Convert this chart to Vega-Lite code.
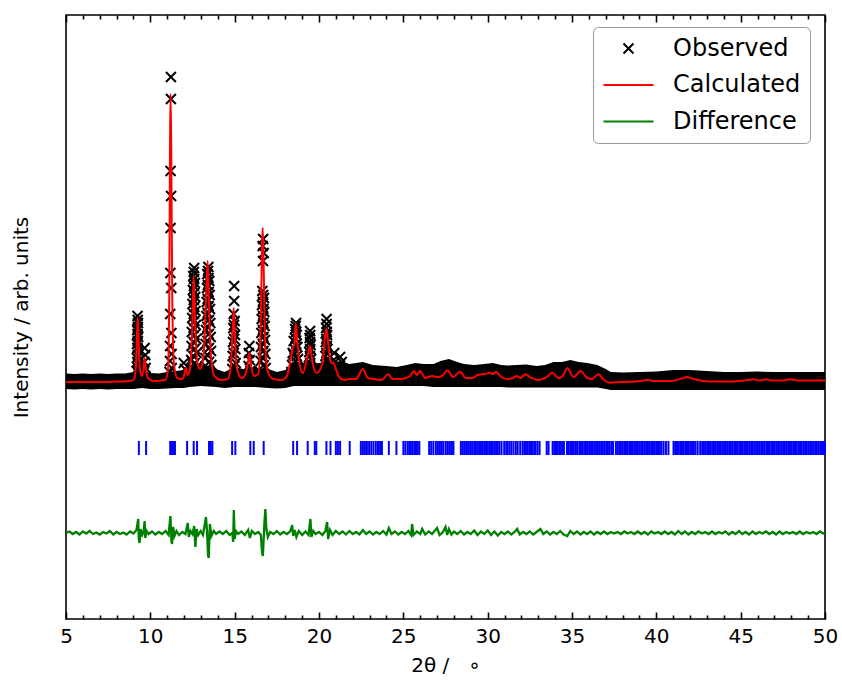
{
  "$schema": "https://vega.github.io/schema/vega-lite/v6.json",
  "width": 759,
  "height": 604,
  "autosize": {"type": "none"},
  "padding": {"left": 66, "top": 15, "right": 17, "bottom": 63},
  "background": "white",
  "datasets": {
    "band": [
      {"x": 5.0, "lo": 230, "hi": 245.5}, {"x": 5.5, "lo": 229.5, "hi": 245}, {"x": 6.0, "lo": 230, "hi": 245.5},
      {"x": 6.5, "lo": 229.5, "hi": 245}, {"x": 7.0, "lo": 230, "hi": 245.5}, {"x": 7.5, "lo": 229.5, "hi": 245},
      {"x": 8.0, "lo": 230, "hi": 245.5}, {"x": 8.5, "lo": 230, "hi": 245.5}, {"x": 9.0, "lo": 230, "hi": 247},
      {"x": 9.5, "lo": 231, "hi": 249}, {"x": 10.0, "lo": 230, "hi": 246}, {"x": 10.5, "lo": 230, "hi": 245.5},
      {"x": 11.0, "lo": 230.5, "hi": 247}, {"x": 11.5, "lo": 231, "hi": 248}, {"x": 12.0, "lo": 231, "hi": 249},
      {"x": 12.3, "lo": 232, "hi": 252}, {"x": 13.0, "lo": 233, "hi": 256}, {"x": 13.9, "lo": 232, "hi": 250},
      {"x": 14.4, "lo": 231, "hi": 247}, {"x": 15.0, "lo": 232, "hi": 252}, {"x": 15.5, "lo": 232, "hi": 250},
      {"x": 16.2, "lo": 232, "hi": 251}, {"x": 17.0, "lo": 231, "hi": 250}, {"x": 17.5, "lo": 230.5, "hi": 247},
      {"x": 18.0, "lo": 231, "hi": 249}, {"x": 18.5, "lo": 233, "hi": 256}, {"x": 19.0, "lo": 233, "hi": 256},
      {"x": 19.5, "lo": 233, "hi": 255}, {"x": 20.0, "lo": 233, "hi": 256}, {"x": 20.5, "lo": 233, "hi": 257},
      {"x": 21.0, "lo": 233, "hi": 257}, {"x": 21.3, "lo": 233, "hi": 258}, {"x": 21.8, "lo": 233, "hi": 255},
      {"x": 22.6, "lo": 233, "hi": 257}, {"x": 23.2, "lo": 233, "hi": 254}, {"x": 24.0, "lo": 233, "hi": 253},
      {"x": 24.6, "lo": 233, "hi": 252}, {"x": 25.2, "lo": 233, "hi": 254}, {"x": 25.7, "lo": 233, "hi": 256},
      {"x": 26.2, "lo": 233, "hi": 255}, {"x": 26.8, "lo": 232, "hi": 255}, {"x": 27.2, "lo": 232, "hi": 258},
      {"x": 27.7, "lo": 232, "hi": 260}, {"x": 28.2, "lo": 232, "hi": 257}, {"x": 28.6, "lo": 232, "hi": 255},
      {"x": 29.2, "lo": 232, "hi": 254}, {"x": 29.8, "lo": 232, "hi": 255}, {"x": 30.3, "lo": 232, "hi": 256},
      {"x": 30.8, "lo": 232, "hi": 254}, {"x": 31.2, "lo": 231.5, "hi": 253.5}, {"x": 31.7, "lo": 231.5, "hi": 254},
      {"x": 32.3, "lo": 231.5, "hi": 254.5}, {"x": 32.9, "lo": 231.5, "hi": 253}, {"x": 33.4, "lo": 231.5, "hi": 254},
      {"x": 33.9, "lo": 231.5, "hi": 257}, {"x": 34.4, "lo": 231.5, "hi": 257}, {"x": 34.9, "lo": 231.5, "hi": 259},
      {"x": 35.4, "lo": 231.5, "hi": 257}, {"x": 35.9, "lo": 231.5, "hi": 256}, {"x": 36.5, "lo": 231.5, "hi": 254},
      {"x": 37.0, "lo": 230, "hi": 250}, {"x": 37.3, "lo": 229, "hi": 247}, {"x": 38.0, "lo": 229, "hi": 246.5},
      {"x": 39.0, "lo": 229, "hi": 247}, {"x": 40.0, "lo": 229, "hi": 247.5}, {"x": 41.0, "lo": 229, "hi": 249},
      {"x": 42.0, "lo": 229, "hi": 249}, {"x": 43.0, "lo": 229, "hi": 248}, {"x": 44.0, "lo": 229, "hi": 247},
      {"x": 45.0, "lo": 229, "hi": 247}, {"x": 46.0, "lo": 229, "hi": 247.5}, {"x": 47.0, "lo": 229, "hi": 247},
      {"x": 48.0, "lo": 229, "hi": 247}, {"x": 49.0, "lo": 229, "hi": 247}, {"x": 50.0, "lo": 229, "hi": 247}
    ],
    "obs": [
      {"x": 9.24, "intensity": 303}, {"x": 9.27, "intensity": 296}, {"x": 9.22, "intensity": 289}, {"x": 9.28, "intensity": 282},
      {"x": 9.21, "intensity": 275}, {"x": 9.29, "intensity": 268}, {"x": 9.2, "intensity": 261}, {"x": 9.3, "intensity": 254},
      {"x": 9.18, "intensity": 248}, {"x": 9.33, "intensity": 248},
      {"x": 9.25, "intensity": 299}, {"x": 9.26, "intensity": 292}, {"x": 9.24, "intensity": 285}, {"x": 9.26, "intensity": 278},
      {"x": 9.23, "intensity": 271}, {"x": 9.27, "intensity": 264}, {"x": 9.23, "intensity": 257}, {"x": 9.27, "intensity": 251},
      {"x": 9.66, "intensity": 271}, {"x": 9.7, "intensity": 264}, {"x": 9.64, "intensity": 257}, {"x": 9.72, "intensity": 251}, {"x": 9.62, "intensity": 247},
      {"x": 11.22, "intensity": 542}, {"x": 11.22, "intensity": 520}, {"x": 11.2, "intensity": 448}, {"x": 11.23, "intensity": 423},
      {"x": 11.2, "intensity": 391}, {"x": 11.19, "intensity": 346}, {"x": 11.24, "intensity": 331}, {"x": 11.18, "intensity": 305},
      {"x": 11.25, "intensity": 286}, {"x": 11.17, "intensity": 273}, {"x": 11.26, "intensity": 265}, {"x": 11.16, "intensity": 258},
      {"x": 11.27, "intensity": 251}, {"x": 11.14, "intensity": 247},
      {"x": 11.98, "intensity": 256}, {"x": 12.05, "intensity": 250},
      {"x": 12.6, "intensity": 351}, {"x": 12.55, "intensity": 343}, {"x": 12.64, "intensity": 336}, {"x": 12.52, "intensity": 329},
      {"x": 12.66, "intensity": 322}, {"x": 12.5, "intensity": 315}, {"x": 12.68, "intensity": 308}, {"x": 12.48, "intensity": 301},
      {"x": 12.7, "intensity": 294}, {"x": 12.46, "intensity": 287}, {"x": 12.72, "intensity": 280}, {"x": 12.44, "intensity": 273},
      {"x": 12.74, "intensity": 266}, {"x": 12.42, "intensity": 259}, {"x": 12.76, "intensity": 252}, {"x": 12.4, "intensity": 247},
      {"x": 12.58, "intensity": 347}, {"x": 12.6, "intensity": 340}, {"x": 12.58, "intensity": 333}, {"x": 12.61, "intensity": 326},
      {"x": 12.57, "intensity": 319}, {"x": 12.61, "intensity": 312}, {"x": 12.57, "intensity": 305}, {"x": 12.62, "intensity": 298},
      {"x": 12.56, "intensity": 291}, {"x": 12.62, "intensity": 284}, {"x": 12.56, "intensity": 277}, {"x": 12.63, "intensity": 270},
      {"x": 12.55, "intensity": 263}, {"x": 12.63, "intensity": 256}, {"x": 12.55, "intensity": 250},
      {"x": 13.44, "intensity": 352}, {"x": 13.38, "intensity": 345}, {"x": 13.5, "intensity": 338}, {"x": 13.36, "intensity": 331},
      {"x": 13.52, "intensity": 324}, {"x": 13.34, "intensity": 317}, {"x": 13.54, "intensity": 310}, {"x": 13.32, "intensity": 303},
      {"x": 13.56, "intensity": 296}, {"x": 13.3, "intensity": 289}, {"x": 13.58, "intensity": 282}, {"x": 13.28, "intensity": 275},
      {"x": 13.6, "intensity": 268}, {"x": 13.26, "intensity": 261}, {"x": 13.62, "intensity": 254}, {"x": 13.25, "intensity": 247},
      {"x": 13.42, "intensity": 348}, {"x": 13.45, "intensity": 341}, {"x": 13.41, "intensity": 334}, {"x": 13.46, "intensity": 327},
      {"x": 13.4, "intensity": 320}, {"x": 13.46, "intensity": 313}, {"x": 13.4, "intensity": 306}, {"x": 13.47, "intensity": 299},
      {"x": 13.39, "intensity": 292}, {"x": 13.47, "intensity": 285}, {"x": 13.39, "intensity": 278}, {"x": 13.48, "intensity": 271},
      {"x": 13.38, "intensity": 264}, {"x": 13.48, "intensity": 257}, {"x": 13.38, "intensity": 251},
      {"x": 14.97, "intensity": 333}, {"x": 14.97, "intensity": 318}, {"x": 14.94, "intensity": 305}, {"x": 15.0, "intensity": 298},
      {"x": 14.92, "intensity": 291}, {"x": 15.02, "intensity": 284}, {"x": 14.9, "intensity": 277}, {"x": 15.04, "intensity": 270},
      {"x": 14.88, "intensity": 263}, {"x": 15.06, "intensity": 256}, {"x": 14.86, "intensity": 250},
      {"x": 14.96, "intensity": 294}, {"x": 14.97, "intensity": 280}, {"x": 14.95, "intensity": 266}, {"x": 14.98, "intensity": 253},
      {"x": 15.87, "intensity": 273}, {"x": 15.84, "intensity": 266}, {"x": 15.9, "intensity": 259}, {"x": 15.82, "intensity": 253}, {"x": 15.93, "intensity": 248},
      {"x": 16.69, "intensity": 380}, {"x": 16.66, "intensity": 373}, {"x": 16.72, "intensity": 366}, {"x": 16.68, "intensity": 358},
      {"x": 16.64, "intensity": 328}, {"x": 16.74, "intensity": 321}, {"x": 16.62, "intensity": 314}, {"x": 16.76, "intensity": 307},
      {"x": 16.6, "intensity": 300}, {"x": 16.78, "intensity": 293}, {"x": 16.58, "intensity": 286}, {"x": 16.8, "intensity": 279},
      {"x": 16.56, "intensity": 272}, {"x": 16.82, "intensity": 265}, {"x": 16.54, "intensity": 258}, {"x": 16.84, "intensity": 251},
      {"x": 16.52, "intensity": 247},
      {"x": 16.69, "intensity": 324}, {"x": 16.68, "intensity": 317}, {"x": 16.7, "intensity": 310}, {"x": 16.68, "intensity": 303},
      {"x": 16.7, "intensity": 296}, {"x": 16.67, "intensity": 289}, {"x": 16.71, "intensity": 282}, {"x": 16.67, "intensity": 275},
      {"x": 16.71, "intensity": 268}, {"x": 16.66, "intensity": 261}, {"x": 16.72, "intensity": 254},
      {"x": 18.64, "intensity": 296}, {"x": 18.58, "intensity": 290}, {"x": 18.68, "intensity": 284}, {"x": 18.5, "intensity": 278},
      {"x": 18.72, "intensity": 272}, {"x": 18.55, "intensity": 270}, {"x": 18.44, "intensity": 266}, {"x": 18.76, "intensity": 260},
      {"x": 18.6, "intensity": 258}, {"x": 18.4, "intensity": 254}, {"x": 18.8, "intensity": 249}, {"x": 18.36, "intensity": 247},
      {"x": 18.62, "intensity": 293}, {"x": 18.64, "intensity": 287}, {"x": 18.6, "intensity": 281}, {"x": 18.66, "intensity": 275},
      {"x": 18.5, "intensity": 264}, {"x": 18.68, "intensity": 263}, {"x": 18.52, "intensity": 252}, {"x": 18.7, "intensity": 251},
      {"x": 19.47, "intensity": 288}, {"x": 19.44, "intensity": 281}, {"x": 19.5, "intensity": 274}, {"x": 19.42, "intensity": 267},
      {"x": 19.53, "intensity": 260}, {"x": 19.4, "intensity": 253}, {"x": 19.56, "intensity": 248},
      {"x": 19.48, "intensity": 284}, {"x": 19.47, "intensity": 277}, {"x": 19.48, "intensity": 270}, {"x": 19.46, "intensity": 263},
      {"x": 19.48, "intensity": 256}, {"x": 19.46, "intensity": 251},
      {"x": 20.45, "intensity": 300}, {"x": 20.42, "intensity": 291}, {"x": 20.48, "intensity": 284}, {"x": 20.4, "intensity": 277},
      {"x": 20.5, "intensity": 270}, {"x": 20.38, "intensity": 263}, {"x": 20.53, "intensity": 256}, {"x": 20.36, "intensity": 250},
      {"x": 20.45, "intensity": 295}, {"x": 20.46, "intensity": 287}, {"x": 20.44, "intensity": 280}, {"x": 20.46, "intensity": 273},
      {"x": 20.44, "intensity": 266}, {"x": 20.47, "intensity": 259}, {"x": 20.44, "intensity": 253},
      {"x": 20.9, "intensity": 266}, {"x": 20.87, "intensity": 259}, {"x": 20.93, "intensity": 252},
      {"x": 21.25, "intensity": 262}, {"x": 21.35, "intensity": 257}
    ],
    "calc": [
      {"x": 5.0, "intensity": 237}, {"x": 6.0, "intensity": 237}, {"x": 7.0, "intensity": 237}, {"x": 8.0, "intensity": 237.5},
      {"x": 8.8, "intensity": 238}, {"x": 9.05, "intensity": 240}, {"x": 9.15, "intensity": 255}, {"x": 9.22, "intensity": 290},
      {"x": 9.25, "intensity": 301}, {"x": 9.29, "intensity": 285}, {"x": 9.38, "intensity": 250}, {"x": 9.5, "intensity": 243},
      {"x": 9.6, "intensity": 250}, {"x": 9.66, "intensity": 261}, {"x": 9.72, "intensity": 252}, {"x": 9.85, "intensity": 241},
      {"x": 10.2, "intensity": 238}, {"x": 10.9, "intensity": 239}, {"x": 11.05, "intensity": 250}, {"x": 11.12, "intensity": 320},
      {"x": 11.17, "intensity": 480}, {"x": 11.2, "intensity": 525}, {"x": 11.24, "intensity": 470}, {"x": 11.3, "intensity": 320},
      {"x": 11.4, "intensity": 255}, {"x": 11.6, "intensity": 241}, {"x": 11.9, "intensity": 240}, {"x": 12.02, "intensity": 245},
      {"x": 12.11, "intensity": 251}, {"x": 12.2, "intensity": 244}, {"x": 12.35, "intensity": 250}, {"x": 12.48, "intensity": 290},
      {"x": 12.57, "intensity": 343}, {"x": 12.65, "intensity": 300}, {"x": 12.78, "intensity": 258}, {"x": 12.95, "intensity": 250},
      {"x": 13.15, "intensity": 262}, {"x": 13.3, "intensity": 320}, {"x": 13.4, "intensity": 358}, {"x": 13.47, "intensity": 320},
      {"x": 13.6, "intensity": 262}, {"x": 13.8, "intensity": 243}, {"x": 14.2, "intensity": 239}, {"x": 14.6, "intensity": 240},
      {"x": 14.78, "intensity": 255}, {"x": 14.88, "intensity": 290}, {"x": 14.94, "intensity": 311}, {"x": 15.0, "intensity": 290},
      {"x": 15.12, "intensity": 252}, {"x": 15.4, "intensity": 241}, {"x": 15.65, "intensity": 245}, {"x": 15.8, "intensity": 258},
      {"x": 15.87, "intensity": 266}, {"x": 15.95, "intensity": 256}, {"x": 16.15, "intensity": 243}, {"x": 16.4, "intensity": 245},
      {"x": 16.55, "intensity": 300}, {"x": 16.62, "intensity": 370}, {"x": 16.66, "intensity": 391}, {"x": 16.71, "intensity": 360},
      {"x": 16.8, "intensity": 280}, {"x": 16.95, "intensity": 248}, {"x": 17.3, "intensity": 240}, {"x": 17.8, "intensity": 239},
      {"x": 18.1, "intensity": 243}, {"x": 18.3, "intensity": 258}, {"x": 18.45, "intensity": 271}, {"x": 18.53, "intensity": 275},
      {"x": 18.62, "intensity": 296}, {"x": 18.7, "intensity": 280}, {"x": 18.85, "intensity": 255}, {"x": 19.05, "intensity": 246},
      {"x": 19.3, "intensity": 262}, {"x": 19.47, "intensity": 273}, {"x": 19.6, "intensity": 258}, {"x": 19.85, "intensity": 246},
      {"x": 20.2, "intensity": 255}, {"x": 20.38, "intensity": 285}, {"x": 20.45, "intensity": 290}, {"x": 20.55, "intensity": 275},
      {"x": 20.7, "intensity": 257}, {"x": 20.89, "intensity": 255}, {"x": 21.0, "intensity": 250}, {"x": 21.2, "intensity": 242},
      {"x": 21.5, "intensity": 239}, {"x": 21.8, "intensity": 240}, {"x": 22.2, "intensity": 240}, {"x": 22.59, "intensity": 250},
      {"x": 22.9, "intensity": 241}, {"x": 23.3, "intensity": 240}, {"x": 23.7, "intensity": 239}, {"x": 24.11, "intensity": 244.7},
      {"x": 24.35, "intensity": 240}, {"x": 24.9, "intensity": 240}, {"x": 25.39, "intensity": 243}, {"x": 25.63, "intensity": 248},
      {"x": 25.8, "intensity": 244}, {"x": 25.99, "intensity": 248}, {"x": 26.3, "intensity": 241}, {"x": 26.7, "intensity": 243},
      {"x": 27.0, "intensity": 242}, {"x": 27.3, "intensity": 243}, {"x": 27.61, "intensity": 248.7}, {"x": 27.95, "intensity": 242},
      {"x": 28.36, "intensity": 247.3}, {"x": 28.7, "intensity": 241}, {"x": 29.1, "intensity": 241}, {"x": 29.4, "intensity": 244},
      {"x": 29.65, "intensity": 244.7}, {"x": 29.85, "intensity": 245}, {"x": 30.14, "intensity": 246.3}, {"x": 30.3, "intensity": 245},
      {"x": 30.49, "intensity": 247}, {"x": 30.8, "intensity": 242}, {"x": 31.2, "intensity": 240}, {"x": 31.5, "intensity": 241},
      {"x": 31.72, "intensity": 243}, {"x": 31.95, "intensity": 241}, {"x": 32.21, "intensity": 244.7}, {"x": 32.6, "intensity": 241},
      {"x": 33.0, "intensity": 239}, {"x": 33.5, "intensity": 242}, {"x": 33.83, "intensity": 246.3}, {"x": 34.2, "intensity": 241},
      {"x": 34.45, "intensity": 243}, {"x": 34.72, "intensity": 250.7}, {"x": 35.1, "intensity": 242}, {"x": 35.51, "intensity": 248},
      {"x": 35.9, "intensity": 241}, {"x": 36.2, "intensity": 240}, {"x": 36.56, "intensity": 244.7}, {"x": 36.9, "intensity": 239},
      {"x": 37.25, "intensity": 236.3}, {"x": 38.0, "intensity": 237}, {"x": 38.8, "intensity": 237.5}, {"x": 39.52, "intensity": 239},
      {"x": 39.8, "intensity": 238}, {"x": 40.22, "intensity": 238}, {"x": 40.9, "intensity": 238}, {"x": 41.5, "intensity": 240.5},
      {"x": 41.8, "intensity": 242}, {"x": 42.2, "intensity": 240}, {"x": 42.8, "intensity": 238}, {"x": 43.5, "intensity": 237.5},
      {"x": 44.5, "intensity": 237.5}, {"x": 45.2, "intensity": 238.5}, {"x": 45.75, "intensity": 239.7}, {"x": 46.1, "intensity": 238.5},
      {"x": 46.44, "intensity": 239.7}, {"x": 46.9, "intensity": 238.5}, {"x": 47.4, "intensity": 238.5}, {"x": 47.93, "intensity": 239.7},
      {"x": 48.5, "intensity": 238.5}, {"x": 49.2, "intensity": 238.5}, {"x": 50.0, "intensity": 238.5}
    ],
    "refl": [
      {"x": 9.32}, {"x": 9.75}, {"x": 11.18}, {"x": 11.28}, {"x": 11.38}, {"x": 11.46}, {"x": 12.18}, {"x": 12.57}, {"x": 12.77},
      {"x": 13.48}, {"x": 13.58}, {"x": 13.68}, {"x": 14.85}, {"x": 15.04}, {"x": 15.93}, {"x": 16.13}, {"x": 16.72}, {"x": 18.47},
      {"x": 18.7}, {"x": 19.33}, {"x": 19.75}, {"x": 19.84}, {"x": 20.44}, {"x": 20.68}, {"x": 21.0}, {"x": 21.12}, {"x": 21.25},
      {"x": 21.82}, {"x": 22.48}, {"x": 22.6}, {"x": 22.72}, {"x": 22.84}, {"x": 22.97}, {"x": 23.1}, {"x": 23.23}, {"x": 23.37},
      {"x": 23.5}, {"x": 23.62}, {"x": 23.73}, {"x": 24.14}, {"x": 24.59}, {"x": 25.0}, {"x": 25.12}, {"x": 25.25}, {"x": 25.35},
      {"x": 25.45}, {"x": 25.55}, {"x": 25.65}, {"x": 25.75}, {"x": 25.85}, {"x": 25.95}, {"x": 26.53}, {"x": 26.65}, {"x": 26.78},
      {"x": 26.93}, {"x": 27.05}, {"x": 27.17}, {"x": 27.28}, {"x": 27.38}, {"x": 27.52}, {"x": 27.64}, {"x": 27.76}, {"x": 27.88},
      {"x": 27.97}, {"x": 28.41}, {"x": 28.53}, {"x": 28.65}, {"x": 28.77}, {"x": 28.88}, {"x": 28.98}, {"x": 29.08}, {"x": 29.2},
      {"x": 29.3}, {"x": 29.4}, {"x": 29.5}, {"x": 29.6}, {"x": 29.7}, {"x": 29.8}, {"x": 29.9}, {"x": 30.0}, {"x": 30.1},
      {"x": 30.2}, {"x": 30.3}, {"x": 30.4}, {"x": 30.5}, {"x": 30.6}, {"x": 30.7}, {"x": 30.82}, {"x": 30.98}, {"x": 31.1},
      {"x": 31.16}, {"x": 31.28}, {"x": 31.4}, {"x": 31.53}, {"x": 31.67}, {"x": 31.78}, {"x": 31.93}, {"x": 32.07}, {"x": 32.17},
      {"x": 32.27}, {"x": 32.37}, {"x": 32.47}, {"x": 32.57}, {"x": 32.67}, {"x": 32.77}, {"x": 32.84}, {"x": 32.96}, {"x": 33.08},
      {"x": 33.5}, {"x": 33.61}, {"x": 33.85}, {"x": 33.95}, {"x": 34.05}, {"x": 34.13}, {"x": 34.24}, {"x": 34.34}, {"x": 34.44},
      {"x": 34.52}, {"x": 34.7}, {"x": 34.8}, {"x": 34.9}, {"x": 35.0}, {"x": 35.1}, {"x": 35.2}, {"x": 35.3}, {"x": 35.43},
      {"x": 35.53}, {"x": 35.63}, {"x": 35.73}, {"x": 35.83}, {"x": 35.93}, {"x": 36.03}, {"x": 36.13}, {"x": 36.23}, {"x": 36.33},
      {"x": 36.43}, {"x": 36.53}, {"x": 36.63}, {"x": 36.73}, {"x": 36.83}, {"x": 36.93}, {"x": 37.03}, {"x": 37.13}, {"x": 37.23},
      {"x": 37.33}, {"x": 37.43}, {"x": 37.6}, {"x": 37.7}, {"x": 37.8}, {"x": 37.9}, {"x": 38.0}, {"x": 38.1}, {"x": 38.2},
      {"x": 38.3}, {"x": 38.4}, {"x": 38.5}, {"x": 38.6}, {"x": 38.7}, {"x": 38.8}, {"x": 38.9}, {"x": 39.0}, {"x": 39.1},
      {"x": 39.2}, {"x": 39.3}, {"x": 39.4}, {"x": 39.5}, {"x": 39.6}, {"x": 39.7}, {"x": 39.8}, {"x": 39.9}, {"x": 40.0},
      {"x": 40.1}, {"x": 40.2}, {"x": 40.3}, {"x": 40.43}, {"x": 40.57}, {"x": 40.72}, {"x": 41.02}, {"x": 41.12}, {"x": 41.22},
      {"x": 41.32}, {"x": 41.42}, {"x": 41.52}, {"x": 41.62}, {"x": 41.72}, {"x": 41.82}, {"x": 41.92}, {"x": 42.02}, {"x": 42.12},
      {"x": 42.22}, {"x": 42.32}, {"x": 42.45}, {"x": 42.6}, {"x": 42.72}, {"x": 42.82}, {"x": 42.92}, {"x": 43.02}, {"x": 43.12},
      {"x": 43.22}, {"x": 43.32}, {"x": 43.42}, {"x": 43.52}, {"x": 43.62}, {"x": 43.72}, {"x": 43.82}, {"x": 43.92}, {"x": 44.02},
      {"x": 44.12}, {"x": 44.22}, {"x": 44.32}, {"x": 44.42}, {"x": 44.52}, {"x": 44.62}, {"x": 44.72}, {"x": 44.82}, {"x": 44.92},
      {"x": 45.02}, {"x": 45.12}, {"x": 45.22}, {"x": 45.32}, {"x": 45.42}, {"x": 45.52}, {"x": 45.62}, {"x": 45.72}, {"x": 45.82},
      {"x": 45.92}, {"x": 46.02}, {"x": 46.12}, {"x": 46.22}, {"x": 46.32}, {"x": 46.42}, {"x": 46.52}, {"x": 46.62}, {"x": 46.72},
      {"x": 46.82}, {"x": 46.92}, {"x": 47.02}, {"x": 47.12}, {"x": 47.22}, {"x": 47.32}, {"x": 47.42}, {"x": 47.52}, {"x": 47.62},
      {"x": 47.72}, {"x": 47.82}, {"x": 47.92}, {"x": 48.02}, {"x": 48.12}, {"x": 48.22}, {"x": 48.32}, {"x": 48.42}, {"x": 48.52},
      {"x": 48.62}, {"x": 48.72}, {"x": 48.82}, {"x": 48.92}, {"x": 49.02}, {"x": 49.12}, {"x": 49.22}, {"x": 49.32}, {"x": 49.42},
      {"x": 49.52}, {"x": 49.62}, {"x": 49.72}, {"x": 49.82}, {"x": 49.92}, {"x": 50.0}
    ],
    "diff": [
      {"x": 5.0, "intensity": 86}, {"x": 5.2, "intensity": 87.5}, {"x": 5.4, "intensity": 85}, {"x": 5.6, "intensity": 87},
      {"x": 5.8, "intensity": 84.5}, {"x": 6.0, "intensity": 87.5}, {"x": 6.2, "intensity": 85.5}, {"x": 6.4, "intensity": 88},
      {"x": 6.6, "intensity": 85}, {"x": 6.8, "intensity": 86.5}, {"x": 7.0, "intensity": 84.5}, {"x": 7.2, "intensity": 87},
      {"x": 7.4, "intensity": 85.5}, {"x": 7.6, "intensity": 88}, {"x": 7.8, "intensity": 84.5}, {"x": 8.0, "intensity": 87},
      {"x": 8.2, "intensity": 85}, {"x": 8.4, "intensity": 86.5}, {"x": 8.6, "intensity": 84.5}, {"x": 8.8, "intensity": 87.5},
      {"x": 9.0, "intensity": 85.5}, {"x": 9.18, "intensity": 89}, {"x": 9.28, "intensity": 100}, {"x": 9.32, "intensity": 79},
      {"x": 9.36, "intensity": 76}, {"x": 9.42, "intensity": 90}, {"x": 9.52, "intensity": 84}, {"x": 9.6, "intensity": 87},
      {"x": 9.66, "intensity": 98}, {"x": 9.7, "intensity": 81}, {"x": 9.78, "intensity": 88}, {"x": 9.9, "intensity": 85},
      {"x": 10.1, "intensity": 87.5}, {"x": 10.3, "intensity": 84.5}, {"x": 10.5, "intensity": 87}, {"x": 10.7, "intensity": 85},
      {"x": 10.9, "intensity": 88}, {"x": 11.08, "intensity": 84}, {"x": 11.19, "intensity": 103}, {"x": 11.25, "intensity": 78},
      {"x": 11.29, "intensity": 75}, {"x": 11.35, "intensity": 92}, {"x": 11.43, "intensity": 83}, {"x": 11.55, "intensity": 88},
      {"x": 11.7, "intensity": 84}, {"x": 11.9, "intensity": 87}, {"x": 12.08, "intensity": 85}, {"x": 12.22, "intensity": 96},
      {"x": 12.28, "intensity": 82}, {"x": 12.38, "intensity": 88}, {"x": 12.5, "intensity": 85}, {"x": 12.6, "intensity": 93},
      {"x": 12.67, "intensity": 72}, {"x": 12.74, "intensity": 90}, {"x": 12.84, "intensity": 84}, {"x": 12.98, "intensity": 88},
      {"x": 13.12, "intensity": 84}, {"x": 13.3, "intensity": 102}, {"x": 13.36, "intensity": 88}, {"x": 13.42, "intensity": 64},
      {"x": 13.46, "intensity": 61}, {"x": 13.53, "intensity": 95}, {"x": 13.62, "intensity": 83}, {"x": 13.76, "intensity": 88},
      {"x": 13.9, "intensity": 85}, {"x": 14.1, "intensity": 87.5}, {"x": 14.3, "intensity": 85}, {"x": 14.5, "intensity": 88},
      {"x": 14.7, "intensity": 84}, {"x": 14.86, "intensity": 86}, {"x": 14.91, "intensity": 77}, {"x": 14.95, "intensity": 109},
      {"x": 15.0, "intensity": 80}, {"x": 15.07, "intensity": 88}, {"x": 15.2, "intensity": 85}, {"x": 15.4, "intensity": 87.5},
      {"x": 15.6, "intensity": 84}, {"x": 15.8, "intensity": 89}, {"x": 15.9, "intensity": 81}, {"x": 16.02, "intensity": 88},
      {"x": 16.2, "intensity": 85}, {"x": 16.4, "intensity": 87}, {"x": 16.55, "intensity": 84}, {"x": 16.63, "intensity": 66},
      {"x": 16.67, "intensity": 63}, {"x": 16.77, "intensity": 98}, {"x": 16.82, "intensity": 110}, {"x": 16.88, "intensity": 90},
      {"x": 16.97, "intensity": 82}, {"x": 17.1, "intensity": 87}, {"x": 17.3, "intensity": 85}, {"x": 17.5, "intensity": 88},
      {"x": 17.7, "intensity": 84.5}, {"x": 17.9, "intensity": 87}, {"x": 18.1, "intensity": 85}, {"x": 18.3, "intensity": 88},
      {"x": 18.41, "intensity": 94}, {"x": 18.47, "intensity": 83}, {"x": 18.56, "intensity": 89}, {"x": 18.66, "intensity": 82},
      {"x": 18.8, "intensity": 88}, {"x": 19.0, "intensity": 84}, {"x": 19.2, "intensity": 87.5}, {"x": 19.38, "intensity": 84},
      {"x": 19.49, "intensity": 100}, {"x": 19.55, "intensity": 82}, {"x": 19.66, "intensity": 88}, {"x": 19.8, "intensity": 85},
      {"x": 20.0, "intensity": 87}, {"x": 20.2, "intensity": 84}, {"x": 20.38, "intensity": 88}, {"x": 20.48, "intensity": 97},
      {"x": 20.54, "intensity": 80}, {"x": 20.65, "intensity": 89}, {"x": 20.8, "intensity": 84}, {"x": 21.0, "intensity": 88},
      {"x": 21.2, "intensity": 85}, {"x": 21.4, "intensity": 87.5}, {"x": 21.6, "intensity": 84.5}, {"x": 21.8, "intensity": 88},
      {"x": 22.0, "intensity": 85}, {"x": 22.2, "intensity": 87}, {"x": 22.4, "intensity": 84.5}, {"x": 22.6, "intensity": 89},
      {"x": 22.8, "intensity": 85}, {"x": 23.0, "intensity": 87.5}, {"x": 23.2, "intensity": 84.5}, {"x": 23.4, "intensity": 87},
      {"x": 23.6, "intensity": 85}, {"x": 23.8, "intensity": 88}, {"x": 24.0, "intensity": 84.5}, {"x": 24.14, "intensity": 91},
      {"x": 24.3, "intensity": 85}, {"x": 24.5, "intensity": 87.5}, {"x": 24.7, "intensity": 84.5}, {"x": 24.9, "intensity": 87},
      {"x": 25.1, "intensity": 85}, {"x": 25.3, "intensity": 88}, {"x": 25.46, "intensity": 84}, {"x": 25.52, "intensity": 95},
      {"x": 25.6, "intensity": 84}, {"x": 25.8, "intensity": 87.5}, {"x": 26.0, "intensity": 85}, {"x": 26.12, "intensity": 90},
      {"x": 26.3, "intensity": 84.5}, {"x": 26.5, "intensity": 87.5}, {"x": 26.7, "intensity": 85}, {"x": 26.85, "intensity": 88},
      {"x": 27.0, "intensity": 91}, {"x": 27.15, "intensity": 84}, {"x": 27.35, "intensity": 87}, {"x": 27.5, "intensity": 92},
      {"x": 27.6, "intensity": 84}, {"x": 27.7, "intensity": 90}, {"x": 27.85, "intensity": 84.5}, {"x": 28.0, "intensity": 87.5},
      {"x": 28.2, "intensity": 85}, {"x": 28.4, "intensity": 88}, {"x": 28.6, "intensity": 84.5}, {"x": 28.8, "intensity": 87},
      {"x": 29.0, "intensity": 85}, {"x": 29.2, "intensity": 88.5}, {"x": 29.4, "intensity": 84}, {"x": 29.6, "intensity": 87.5},
      {"x": 29.8, "intensity": 85}, {"x": 30.0, "intensity": 88.5}, {"x": 30.2, "intensity": 84}, {"x": 30.4, "intensity": 87.5},
      {"x": 30.6, "intensity": 83.5}, {"x": 30.8, "intensity": 87}, {"x": 31.0, "intensity": 85}, {"x": 31.2, "intensity": 87.5},
      {"x": 31.4, "intensity": 84.5}, {"x": 31.6, "intensity": 87}, {"x": 31.75, "intensity": 90}, {"x": 31.9, "intensity": 84.5},
      {"x": 32.1, "intensity": 87}, {"x": 32.3, "intensity": 85}, {"x": 32.5, "intensity": 87.5}, {"x": 32.7, "intensity": 84.5},
      {"x": 32.9, "intensity": 87}, {"x": 33.13, "intensity": 90}, {"x": 33.3, "intensity": 85}, {"x": 33.5, "intensity": 87.5},
      {"x": 33.7, "intensity": 84.5}, {"x": 33.9, "intensity": 87}, {"x": 34.1, "intensity": 85}, {"x": 34.3, "intensity": 88},
      {"x": 34.5, "intensity": 84.5}, {"x": 34.72, "intensity": 83}, {"x": 34.9, "intensity": 88}, {"x": 35.1, "intensity": 85},
      {"x": 35.3, "intensity": 87.5}, {"x": 35.5, "intensity": 84.5}, {"x": 35.7, "intensity": 87}, {"x": 35.9, "intensity": 85},
      {"x": 36.1, "intensity": 87.5}, {"x": 36.3, "intensity": 84.5}, {"x": 36.5, "intensity": 87}, {"x": 36.7, "intensity": 85},
      {"x": 36.9, "intensity": 87.5}, {"x": 37.1, "intensity": 85}, {"x": 37.3, "intensity": 87}, {"x": 37.5, "intensity": 85.5},
      {"x": 37.7, "intensity": 87}, {"x": 37.9, "intensity": 85}, {"x": 38.1, "intensity": 87.5}, {"x": 38.3, "intensity": 85.5},
      {"x": 38.5, "intensity": 87}, {"x": 38.7, "intensity": 85}, {"x": 38.9, "intensity": 87.5}, {"x": 39.1, "intensity": 85},
      {"x": 39.3, "intensity": 87}, {"x": 39.5, "intensity": 84.5}, {"x": 39.7, "intensity": 87.5}, {"x": 39.9, "intensity": 85.5},
      {"x": 40.1, "intensity": 87}, {"x": 40.3, "intensity": 85}, {"x": 40.5, "intensity": 87.5}, {"x": 40.7, "intensity": 85},
      {"x": 40.9, "intensity": 87}, {"x": 41.1, "intensity": 84.5}, {"x": 41.3, "intensity": 88}, {"x": 41.5, "intensity": 85},
      {"x": 41.7, "intensity": 87.5}, {"x": 41.9, "intensity": 84.5}, {"x": 42.1, "intensity": 87}, {"x": 42.3, "intensity": 85},
      {"x": 42.5, "intensity": 87.5}, {"x": 42.7, "intensity": 85.5}, {"x": 42.9, "intensity": 87}, {"x": 43.1, "intensity": 85},
      {"x": 43.3, "intensity": 87.5}, {"x": 43.5, "intensity": 85}, {"x": 43.7, "intensity": 87}, {"x": 43.9, "intensity": 85.5},
      {"x": 44.1, "intensity": 87.5}, {"x": 44.3, "intensity": 84.5}, {"x": 44.5, "intensity": 87}, {"x": 44.7, "intensity": 85},
      {"x": 44.9, "intensity": 88}, {"x": 45.1, "intensity": 85}, {"x": 45.3, "intensity": 87}, {"x": 45.5, "intensity": 84.5},
      {"x": 45.7, "intensity": 87.5}, {"x": 45.9, "intensity": 85}, {"x": 46.1, "intensity": 87}, {"x": 46.3, "intensity": 85.5},
      {"x": 46.5, "intensity": 87.5}, {"x": 46.7, "intensity": 85}, {"x": 46.9, "intensity": 87}, {"x": 47.1, "intensity": 84.5},
      {"x": 47.3, "intensity": 87.5}, {"x": 47.5, "intensity": 85}, {"x": 47.7, "intensity": 87}, {"x": 47.9, "intensity": 85.5},
      {"x": 48.1, "intensity": 87}, {"x": 48.3, "intensity": 85}, {"x": 48.5, "intensity": 87.5}, {"x": 48.7, "intensity": 85},
      {"x": 48.9, "intensity": 87}, {"x": 49.1, "intensity": 85.5}, {"x": 49.3, "intensity": 87}, {"x": 49.5, "intensity": 85},
      {"x": 49.7, "intensity": 87.5}, {"x": 49.9, "intensity": 85.5}, {"x": 50.0, "intensity": 86}
    ]
  },
  "resolve": {"axis": {"x": "independent"}},
  "layer": [
    {
      "data": {"name": "band"},
      "mark": {"type": "area", "color": "black", "interpolate": "linear"},
      "encoding": {
        "x": {"field": "x", "type": "quantitative", "scale": {"domain": [5, 50], "nice": false, "zero": false},
              "axis": {"orient": "bottom", "values": [5, 10, 15, 20, 25, 30, 35, 40, 45, 50], "tickSize": -7, "labelPadding": 14,
                       "labelFlush": false, "labelOverlap": false, "labelBound": false, "title": "2θ /\u00a0\u00a0\u00a0∘", "titlePadding": 9}},
        "y": {"field": "lo", "type": "quantitative", "scale": {"domain": [0, 604], "nice": false, "zero": false}, "title": "Intensity / arb. units"},
        "y2": {"field": "hi"}
      }
    },
    {
      "data": {"name": "obs"},
      "mark": {"type": "point", "shape": "M-0.5,-0.5L0.5,0.5M0.5,-0.5L-0.5,0.5", "filled": false, "size": 400, "strokeWidth": 2, "opacity": 1},
      "encoding": {
        "x": {"field": "x", "type": "quantitative", "scale": {"domain": [5, 50], "nice": false, "zero": false},
              "axis": {"orient": "bottom", "values": [6,7,8,9,11,12,13,14,16,17,18,19,21,22,23,24,26,27,28,29,31,32,33,34,36,37,38,39,41,42,43,44,46,47,48,49],
                       "tickSize": -4, "labels": false, "title": null}},
        "y": {"field": "intensity", "type": "quantitative", "scale": {"domain": [0, 604], "nice": false, "zero": false}, "title": "Intensity / arb. units"},
        "color": {"datum": "Observed", "type": "nominal",
                  "scale": {"domain": ["Observed", "Calculated", "Difference"], "range": ["#000000", "#ff0000", "#008000"]},
                  "legend": {"orient": "none", "legendX": 527, "legendY": 12, "title": null,
                             "encode": {"symbols": {"update": {
                               "shape": {"signal": "datum.value === 'Observed' ? 'M-0.5,-0.5L0.5,0.5M0.5,-0.5L-0.5,0.5' : 'M-2.5,0L2.5,0'"},
                               "size": {"value": 400},
                               "strokeWidth": {"value": 2},
                               "fill": {"value": "transparent"}}}}}}
      }
    },
    {
      "data": {"name": "calc"},
      "mark": {"type": "line", "strokeWidth": 2, "interpolate": "monotone"},
      "encoding": {
        "x": {"field": "x", "type": "quantitative", "scale": {"domain": [5, 50], "nice": false, "zero": false},
              "axis": {"orient": "top", "values": [5, 10, 15, 20, 25, 30, 35, 40, 45, 50], "tickSize": -7, "labels": false, "title": null}},
        "y": {"field": "intensity", "type": "quantitative", "scale": {"domain": [0, 604], "nice": false, "zero": false}, "title": "Intensity / arb. units"},
        "color": {"datum": "Calculated", "type": "nominal",
                  "legend": {"orient": "none", "legendX": 527, "legendY": 12, "title": null,
                             "encode": {"symbols": {"update": {
                               "shape": {"signal": "datum.value === 'Observed' ? 'M-0.5,-0.5L0.5,0.5M0.5,-0.5L-0.5,0.5' : 'M-2.5,0L2.5,0'"},
                               "size": {"value": 400},
                               "strokeWidth": {"value": 2},
                               "fill": {"value": "transparent"}}}}}}
      }
    },
    {
      "data": {"name": "refl"},
      "mark": {"type": "rule", "color": "#0000ff", "strokeWidth": 2},
      "encoding": {
        "x": {"field": "x", "type": "quantitative", "scale": {"domain": [5, 50], "nice": false, "zero": false},
              "axis": {"orient": "top", "values": [6,7,8,9,11,12,13,14,16,17,18,19,21,22,23,24,26,27,28,29,31,32,33,34,36,37,38,39,41,42,43,44,46,47,48,49],
                       "tickSize": -4, "labels": false, "title": null}},
        "y": {"datum": 178, "type": "quantitative", "scale": {"domain": [0, 604], "nice": false, "zero": false}, "title": "Intensity / arb. units"},
        "y2": {"datum": 164}
      }
    },
    {
      "data": {"name": "diff"},
      "mark": {"type": "line", "strokeWidth": 2.3},
      "encoding": {
        "x": {"field": "x", "type": "quantitative", "scale": {"domain": [5, 50], "nice": false, "zero": false}, "axis": null},
        "y": {"field": "intensity", "type": "quantitative", "scale": {"domain": [0, 604], "nice": false, "zero": false}, "title": "Intensity / arb. units"},
        "color": {"datum": "Difference", "type": "nominal",
                  "legend": {"orient": "none", "legendX": 527, "legendY": 12, "title": null,
                             "encode": {"symbols": {"update": {
                               "shape": {"signal": "datum.value === 'Observed' ? 'M-0.5,-0.5L0.5,0.5M0.5,-0.5L-0.5,0.5' : 'M-2.5,0L2.5,0'"},
                               "size": {"value": 400},
                               "strokeWidth": {"value": 2},
                               "fill": {"value": "transparent"}}}}}}
      }
    }
  ],
  "config": {
    "view": {"stroke": "black", "strokeWidth": 1.6},
    "font": "DejaVu Sans",
    "axis": {"grid": false, "domain": false, "labelFont": "DejaVu Sans", "titleFont": "DejaVu Sans", "labelFontSize": 20,
             "titleFontSize": 20, "titleFontWeight": "normal", "labelColor": "black", "titleColor": "black",
             "tickColor": "black", "tickWidth": 1.6},
    "axisY": {"ticks": false, "labels": false, "titlePadding": 35},
    "legend": {"fillColor": "white", "strokeColor": "#999999", "cornerRadius": 5, "padding": 9.5, "labelFontSize": 24,
               "labelFont": "DejaVu Sans", "labelColor": "black", "symbolSize": 400, "symbolStrokeWidth": 2,
               "symbolOffset": 14, "labelOffset": 32.5, "rowPadding": 12.5, "labelLimit": 0}
  }
}
